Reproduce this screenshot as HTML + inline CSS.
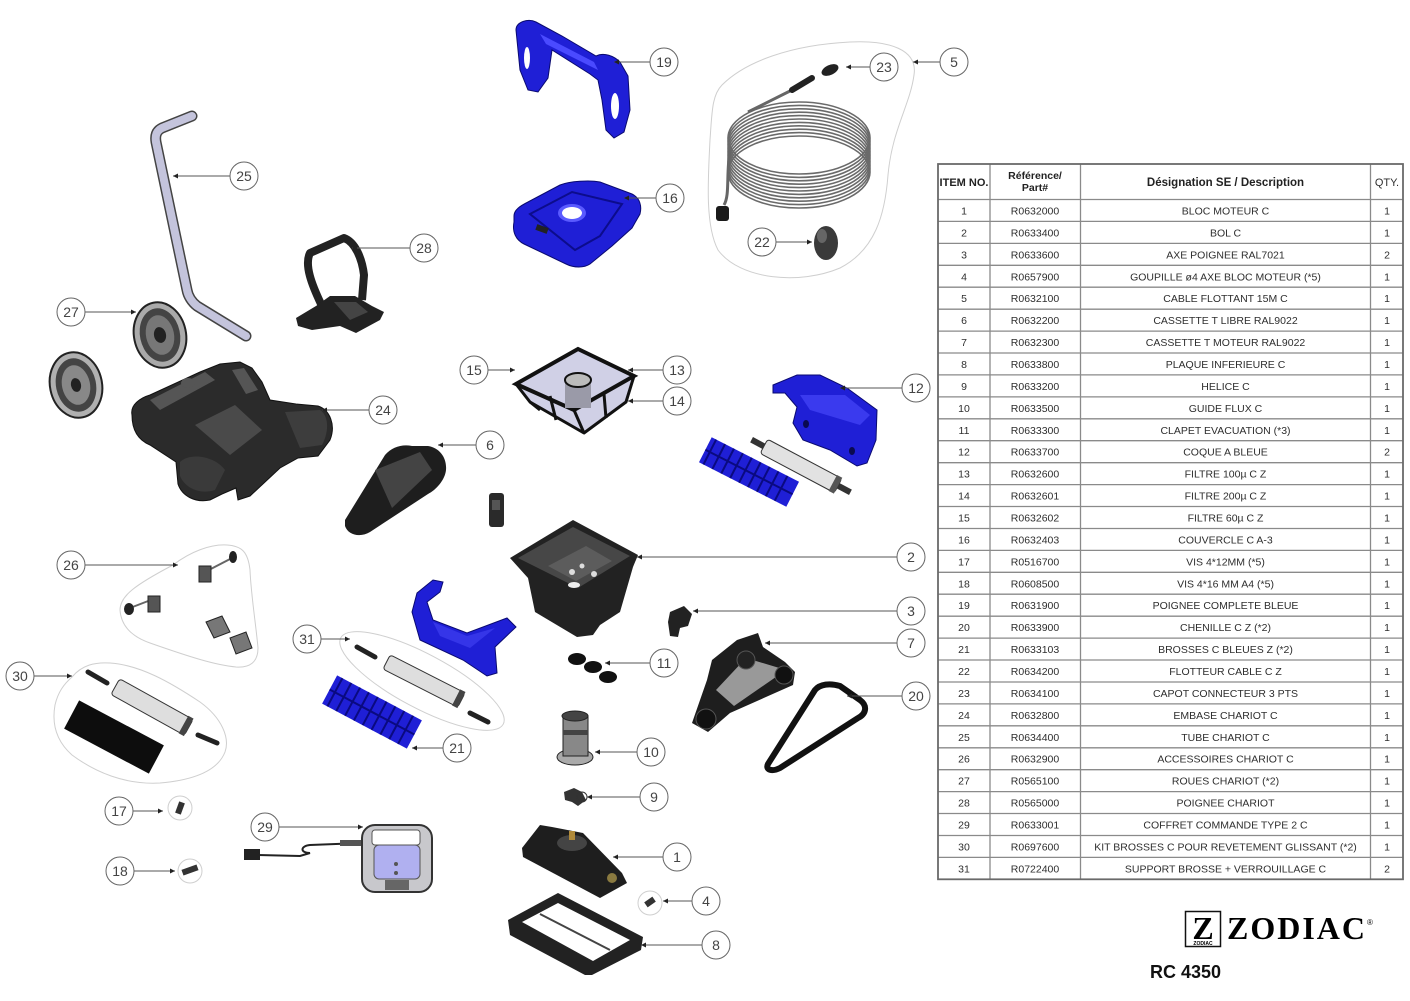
<!DOCTYPE html>
<html><head><meta charset="utf-8"><style>
html,body{margin:0;padding:0;background:#fff;}
svg{display:block;}
.bt{font-family:"Liberation Sans",sans-serif;font-size:14px;fill:#444;text-anchor:middle;}
.tt{font-family:"Liberation Sans",sans-serif;font-size:10.5px;fill:#2e2e2e;text-anchor:middle;}
.th{font-family:"Liberation Sans",sans-serif;font-size:11px;font-weight:bold;fill:#222;text-anchor:middle;}
</style></head><body>
<svg width="1410" height="1001" viewBox="0 0 1410 1001" xmlns="http://www.w3.org/2000/svg">
<defs>
<marker id="ar" viewBox="0 0 6 6" refX="6" refY="3" markerWidth="6" markerHeight="5" orient="auto"><path d="M0,0 L6,3 L0,6 Z" fill="#222"/></marker>
</defs>
<rect width="1410" height="1001" fill="#fff"/>

<!-- group outlines -->
<g fill="none" stroke="#cfcfcf" stroke-width="1">
<path d="M722,85 C745,62 790,45 850,42 C890,40 918,50 914,75 C910,105 892,130 888,175 C885,215 875,250 840,268 C800,285 740,280 718,250 C705,225 708,180 710,140 C712,112 712,95 722,85 Z"/>
<path d="M173,565 C190,552 210,544 227,545 C242,546 248,552 250,570 C251,595 256,625 258,648 C258,662 250,668 236,667 C215,665 190,657 150,643 C130,636 121,625 120,610 C120,596 135,585 173,565 Z"/>
<path d="M72,677 C82,665 95,662 110,663 C140,665 170,682 200,702 C222,718 230,738 225,752 C218,770 195,780 160,783 C125,785 95,772 72,755 C55,740 52,722 55,705 C58,692 64,684 72,677 Z"/>
<ellipse cx="422" cy="681" rx="92" ry="27" transform="rotate(28 422 681)"/>
<circle cx="180" cy="808" r="12"/>
<circle cx="190" cy="871" r="12"/>
<circle cx="650" cy="903" r="12"/>
</g>

<!-- 19 blue handle -->
<path d="M516,30 C516,22 528,18 536,22 L562,36 L596,56 C604,52 614,56 620,62 L628,76 L630,110 L624,132 L614,138 L606,130 L602,100 L598,80 L590,74 L552,50 L548,78 L538,92 L528,90 L520,70 Z" fill="#1f1fd6" stroke="#0a0a70"/>
<path d="M540,34 L594,62 L598,70 L546,44 Z" fill="#4a4aff"/>
<ellipse cx="527" cy="58" rx="3" ry="11" fill="#fff"/>
<ellipse cx="615" cy="106" rx="4" ry="13" fill="#fff"/>

<!-- 16 blue lid -->
<path d="M514,216 C514,210 520,206 528,202 L560,185 C570,181 590,180 600,182 L632,194 C640,198 642,206 640,214 L632,228 L612,246 L590,264 C584,268 574,268 566,264 L524,244 C516,240 512,232 514,222 Z" fill="#1f1fd6" stroke="#0a0a70"/>
<path d="M530,214 L572,192 L622,204 L600,236 L575,250 Z" fill="none" stroke="#0c0c8c" stroke-width="2"/>
<ellipse cx="572" cy="213" rx="14" ry="9" fill="#5a5aff"/>
<ellipse cx="572" cy="213" rx="10" ry="6" fill="#fff"/>
<rect x="536" y="226" width="12" height="6" fill="#222" transform="rotate(20 542 229)"/>

<!-- 5 cable coil -->
<g fill="none" stroke="#6a6a6a" stroke-width="1.6">
<ellipse cx="799" cy="138" rx="71" ry="36"/><ellipse cx="799" cy="141.4" rx="71" ry="36"/><ellipse cx="799" cy="144.8" rx="71" ry="36"/><ellipse cx="799" cy="148.2" rx="71" ry="36"/><ellipse cx="799" cy="151.6" rx="71" ry="36"/><ellipse cx="799" cy="155" rx="71" ry="36"/><ellipse cx="799" cy="158.4" rx="71" ry="36"/><ellipse cx="799" cy="161.8" rx="71" ry="36"/><ellipse cx="799" cy="165.2" rx="71" ry="36"/><ellipse cx="799" cy="168.6" rx="71" ry="36"/><ellipse cx="799" cy="172" rx="71" ry="36"/>
</g>
<path d="M748,112 L792,90" stroke="#666" stroke-width="3" fill="none"/>
<path d="M792,90 L812,78" stroke="#222" stroke-width="6" stroke-linecap="round"/>
<ellipse cx="830" cy="70" rx="9" ry="5" fill="#222" transform="rotate(-25 830 70)"/>
<path d="M730,150 C726,175 730,195 724,205" stroke="#666" stroke-width="3" fill="none"/>
<rect x="716" y="206" width="13" height="15" rx="3" fill="#1a1a1a"/>
<ellipse cx="826" cy="243" rx="12" ry="17" fill="#3a3a3a"/>
<ellipse cx="822" cy="236" rx="5" ry="7" fill="#666"/>

<!-- 25 pipe -->
<path d="M192,116 L162,128 C156,131 155,136 156,142 L187,290 C188,296 192,302 197,306 L246,336" stroke="#444" stroke-width="11" fill="none" stroke-linecap="round" stroke-linejoin="round"/>
<path d="M192,116 L162,128 C156,131 155,136 156,142 L187,290 C188,296 192,302 197,306 L246,336" stroke="#c4c4dc" stroke-width="8" fill="none" stroke-linecap="round" stroke-linejoin="round"/>

<!-- 28 handle -->
<path d="M321,304 C312,285 304,265 310,253 L344,238 C355,242 362,258 364,275 L362,300" stroke="#222" stroke-width="8" fill="none" stroke-linejoin="round"/>
<path d="M296,318 L316,306 L330,296 L355,296 L372,306 L384,312 L380,320 L356,333 L340,326 L312,330 L298,326 Z" fill="#222"/>
<path d="M334,302 L356,302 L368,312 L350,320 Z" fill="#444"/>

<!-- 27 wheels -->
<g transform="rotate(-12 160 335)">
<ellipse cx="160" cy="335" rx="26" ry="33" fill="#aaa" stroke="#222" stroke-width="2"/>
<ellipse cx="160" cy="335" rx="20" ry="27" fill="#444"/>
<ellipse cx="160" cy="335" rx="14" ry="20" fill="#777"/>
<ellipse cx="160" cy="335" rx="6" ry="8" fill="#222"/>
</g>
<g transform="rotate(-12 76 385)">
<ellipse cx="76" cy="385" rx="26" ry="33" fill="#b0b0b0" stroke="#222" stroke-width="2"/>
<ellipse cx="76" cy="385" rx="20" ry="27" fill="#444"/>
<ellipse cx="76" cy="385" rx="14" ry="20" fill="#888"/>
<ellipse cx="76" cy="385" rx="5" ry="7" fill="#222"/>
</g>

<!-- 24 base -->
<path d="M132,415 C130,405 140,398 150,395 L200,372 L220,364 L240,362 L252,368 L262,382 L270,400 L296,404 L318,406 C330,410 336,425 330,440 L318,456 L298,458 L280,468 L250,496 L238,500 L236,488 L222,494 L210,500 C195,503 182,496 178,484 L176,462 L150,445 C138,440 132,430 132,415 Z" fill="#2b2b2b" stroke="#111"/>
<path d="M195,425 L235,405 L262,430 L230,455 Z" fill="#4a4a4a"/>
<path d="M180,462 C190,452 215,456 225,470 L215,490 C200,495 185,488 180,476 Z" fill="#3a3a3a"/>
<path d="M150,400 L205,372 L215,380 L160,410 Z" fill="#555"/>
<path d="M285,412 L320,410 C328,415 330,430 322,445 L300,448 Z" fill="#3d3d3d"/>
<path d="M232,370 L244,368 L258,390 L246,394 Z" fill="#555"/>
<ellipse cx="188" cy="383" rx="7" ry="5" fill="#555"/>

<!-- 6 cassette -->
<path d="M345,520 L385,455 C392,447 402,444 412,446 L428,446 C440,448 447,458 446,470 C445,480 436,490 428,494 L370,532 C360,538 348,535 345,526 Z" fill="#1e1e1e"/>
<path d="M375,470 L420,452 L432,470 L392,508 Z" fill="#444"/>
<!-- small part -->
<rect x="489" y="493" width="15" height="34" rx="3" fill="#2a2a2a"/>
<rect x="492" y="500" width="8" height="10" fill="#555"/>

<!-- filter 13/14/15 -->
<path d="M516,384 L578,349 L634,376 L626,402 L584,433 L530,402 Z" fill="#d0d0e6" stroke="#111" stroke-width="3" stroke-linejoin="round"/>
<path d="M516,384 L578,349 L634,376 L574,410 Z" fill="none" stroke="#111" stroke-width="4"/>
<rect x="565" y="380" width="26" height="28" fill="#9a9aa8"/>
<ellipse cx="578" cy="380" rx="13" ry="7" fill="#bbb" stroke="#111" stroke-width="2"/>
<path d="M574,410 L584,433 M550,396 L556,420 M604,394 L606,418 M530,402 L540,410" stroke="#111" stroke-width="3"/>

<!-- 12 blue shell right -->
<path d="M773,385 L797,375 L820,375 L847,388 L877,410 L876,440 L867,463 L857,466 L830,450 L803,440 L793,423 L797,407 L785,393 L773,393 Z" fill="#1f1fd6" stroke="#0a0a70"/>
<path d="M800,395 L845,395 L870,415 L860,425 L810,410 Z" fill="#3a3aee"/>
<ellipse cx="806" cy="424" rx="3" ry="4" fill="#0a0a50"/>
<ellipse cx="852" cy="451" rx="3" ry="4" fill="#0a0a50"/>
<!-- brush right -->
<g transform="translate(749 472) rotate(27)">
<rect x="-49" y="-14" width="98" height="28" fill="#1f1fd6"/>
<path d="M-44,-14 V14 M-34,-14 V14 M-24,-14 V14 M-14,-14 V14 M-4,-14 V14 M6,-14 V14 M16,-14 V14 M26,-14 V14 M36,-14 V14 M-49,0 H49" stroke="#0a0a80" stroke-width="2"/>
</g>
<!-- roller right -->
<g transform="translate(801 466) rotate(28)">
<rect x="-56" y="-3" width="112" height="6" fill="#333"/>
<rect x="-42" y="-8" width="84" height="16" rx="3" fill="#e2e2e2" stroke="#333"/>
<rect x="36" y="-9" width="6" height="18" fill="#555"/>
</g>

<!-- 2 bowl -->
<path d="M510,558 L573,520 L638,555 L633,567 L620,612 L600,625 L593,635 L577,637 L535,612 L528,578 Z" fill="#222"/>
<path d="M518,558 L573,527 L630,556 L578,588 Z" fill="#474747"/>
<path d="M548,566 L586,546 L612,561 L576,581 Z" fill="#5c5c5c"/>
<circle cx="572" cy="572" r="3" fill="#ddd"/><circle cx="582" cy="566" r="2.5" fill="#ddd"/><circle cx="594" cy="574" r="3" fill="#ddd"/>
<ellipse cx="574" cy="585" rx="6" ry="3" fill="#eee"/>

<!-- 12 blue shell left -->
<path d="M417,593 L433,580 L443,582 L440,592 L427,602 L433,620 L467,633 L507,618 L516,627 L495,647 L497,673 L487,676 L463,660 L420,640 L412,612 Z" fill="#1f1fd6" stroke="#0a0a70"/>
<path d="M433,622 L467,636 L495,628 L470,648 L440,636 Z" fill="#3535e8"/>

<!-- 3 -->
<path d="M670,612 L684,606 L692,614 L688,626 L680,628 L678,637 L670,636 L668,622 Z" fill="#222"/>

<!-- 11 discs -->
<ellipse cx="577" cy="659" rx="9" ry="6" fill="#111"/>
<ellipse cx="593" cy="667" rx="9" ry="6" fill="#111"/>
<ellipse cx="608" cy="677" rx="9" ry="6" fill="#111"/>

<!-- 7 cassette motor -->
<path d="M692,723 L707,680 L712,660 L737,640 L758,633 L763,647 L785,662 L795,672 L793,685 L730,713 L708,732 Z" fill="#1e1e1e"/>
<path d="M716,690 L746,658 L786,670 L734,706 Z" fill="#999"/>
<circle cx="706" cy="719" r="10" fill="#111" stroke="#555"/>
<circle cx="784" cy="675" r="9" fill="#111" stroke="#555"/>
<circle cx="746" cy="660" r="9" fill="#222" stroke="#555"/>

<!-- 20 track -->
<path d="M768,764 L815,690 C820,684 830,683 840,686 L860,700 C868,706 866,714 858,718 L780,768 C772,772 765,770 768,764 Z" fill="none" stroke="#111" stroke-width="6" stroke-linejoin="round"/>

<!-- 10 -->
<ellipse cx="575" cy="757" rx="18" ry="8" fill="#aaa" stroke="#222"/>
<rect x="563" y="716" width="25" height="40" fill="#888" stroke="#222"/>
<rect x="563" y="730" width="25" height="5" fill="#444"/>
<ellipse cx="575" cy="716" rx="13" ry="5" fill="#444" stroke="#222"/>

<!-- 9 -->
<path d="M564,792 L574,788 L582,792 L586,800 L578,806 L572,802 L565,800 Z" fill="#333"/>
<circle cx="582" cy="797" r="5" fill="none" stroke="#333"/>

<!-- 1 motor -->
<path d="M522,848 L540,825 L552,827 L583,833 L622,873 L627,883 L600,898 L523,857 Z" fill="#1e1e1e"/>
<ellipse cx="572" cy="843" rx="15" ry="8" fill="#444"/>
<rect x="569" y="831" width="6" height="9" fill="#b08a3a"/>
<circle cx="612" cy="878" r="5" fill="#8a7a40"/>

<!-- 4 -->
<rect x="645" y="899" width="10" height="6" fill="#333" transform="rotate(-35 650 902)"/>

<!-- 8 plate -->
<path d="M508,920 L558,893 L643,937 L641,950 L592,975 L585,975 L510,935 Z" fill="#222"/>
<path d="M522,922 L558,903 L630,940 L593,961 Z" fill="#fff"/>
<path d="M540,914 L610,950" stroke="#444" stroke-width="2"/>

<!-- 26 parts -->
<path d="M205,572 L232,558" stroke="#666" stroke-width="2"/>
<ellipse cx="233" cy="557" rx="4" ry="6" fill="#222"/>
<rect x="199" y="566" width="12" height="16" fill="#555" stroke="#222"/>
<path d="M130,608 L156,598" stroke="#666" stroke-width="2"/>
<ellipse cx="129" cy="609" rx="5" ry="6" fill="#222"/>
<rect x="148" y="596" width="12" height="16" fill="#555" stroke="#222"/>
<path d="M206,622 L222,616 L230,632 L214,638 Z" fill="#777" stroke="#222"/>
<path d="M230,638 L246,632 L252,648 L236,654 Z" fill="#777" stroke="#222"/>

<!-- 30 parts -->
<g transform="translate(114 737) rotate(28)"><rect x="-48" y="-16" width="96" height="32" fill="#0d0d0d"/></g>
<g transform="translate(152 707) rotate(29)"><rect x="-42" y="-9" width="84" height="18" rx="3" fill="#dedede" stroke="#333"/><rect x="36" y="-10" width="6" height="20" fill="#444"/></g>
<path d="M88,672 L107,683 M198,735 L217,743" stroke="#222" stroke-width="5" stroke-linecap="round"/>

<!-- 31 parts -->
<g transform="translate(424 681) rotate(27)"><rect x="-42" y="-8" width="84" height="16" rx="3" fill="#dedede" stroke="#333"/><rect x="36" y="-9" width="6" height="18" fill="#444"/></g>
<path d="M357,647 L375,657 M470,713 L488,722" stroke="#222" stroke-width="5" stroke-linecap="round"/>
<!-- 21 blue brush -->
<g transform="translate(372 712) rotate(28)">
<rect x="-48" y="-16" width="96" height="32" fill="#1f1fd6"/>
<path d="M-42,-16 V16 M-32,-16 V16 M-22,-16 V16 M-12,-16 V16 M-2,-16 V16 M8,-16 V16 M18,-16 V16 M28,-16 V16 M38,-16 V16 M-48,0 H48" stroke="#0a0a80" stroke-width="2"/>
</g>

<!-- 17 / 18 -->
<rect x="177" y="802" width="6" height="12" fill="#333" transform="rotate(20 180 808)"/>
<rect x="182" y="867" width="16" height="6" fill="#333" transform="rotate(-20 190 870)"/>

<!-- 29 control box -->
<path d="M362,843 L310,845 C300,846 300,853 310,853 L300,856 L258,855" stroke="#222" stroke-width="2" fill="none"/>
<rect x="244" y="849" width="16" height="11" fill="#222"/>
<rect x="340" y="840" width="22" height="6" fill="#555"/>
<rect x="362" y="825" width="70" height="67" rx="13" fill="#c8c8cc" stroke="#333" stroke-width="2"/>
<rect x="372" y="830" width="48" height="15" rx="3" fill="#fff" stroke="#555"/>
<rect x="374" y="845" width="46" height="34" rx="5" fill="#b0b0f0" stroke="#555"/>
<rect x="385" y="880" width="24" height="10" fill="#666"/>
<circle cx="396" cy="864" r="2" fill="#555"/><circle cx="396" cy="873" r="2" fill="#555"/>

<!-- leaders -->
<g stroke="#555" stroke-width="1" fill="none" marker-end="url(#ar)">
<path d="M650,62 H614"/>
<path d="M870,67 H846"/>
<path d="M940,62 H913"/>
<path d="M656,198 H624"/>
<path d="M776,242 H812"/>
<path d="M230,176 H173"/>
<path d="M410,248 H352"/>
<path d="M85,312 H136"/>
<path d="M369,410 H322"/>
<path d="M488,370 H515"/>
<path d="M663,370 H628"/>
<path d="M663,401 H628"/>
<path d="M902,388 H840"/>
<path d="M476,445 H438"/>
<path d="M897,557 H637"/>
<path d="M85,565 H178"/>
<path d="M897,611 H693"/>
<path d="M321,639 H350"/>
<path d="M897,643 H765"/>
<path d="M650,663 H605"/>
<path d="M34,676 H72"/>
<path d="M902,696 H847"/>
<path d="M443,748 H412"/>
<path d="M637,752 H595"/>
<path d="M640,797 H587"/>
<path d="M133,811 H163"/>
<path d="M279,827 H363"/>
<path d="M663,857 H613"/>
<path d="M134,871 H175"/>
<path d="M692,901 H663"/>
<path d="M702,945 H641"/>
</g>

<!-- balloons -->
<g fill="#fff" stroke="#666" stroke-width="1">
<circle cx="664" cy="62" r="14"/><circle cx="884" cy="67" r="14"/><circle cx="954" cy="62" r="14"/><circle cx="670" cy="198" r="14"/><circle cx="762" cy="242" r="14"/><circle cx="244" cy="176" r="14"/><circle cx="424" cy="248" r="14"/><circle cx="71" cy="312" r="14"/><circle cx="383" cy="410" r="14"/><circle cx="474" cy="370" r="14"/><circle cx="677" cy="370" r="14"/><circle cx="677" cy="401" r="14"/><circle cx="916" cy="388" r="14"/><circle cx="490" cy="445" r="14"/><circle cx="911" cy="557" r="14"/><circle cx="71" cy="565" r="14"/><circle cx="911" cy="611" r="14"/><circle cx="307" cy="639" r="14"/><circle cx="911" cy="643" r="14"/><circle cx="664" cy="663" r="14"/><circle cx="20" cy="676" r="14"/><circle cx="916" cy="696" r="14"/><circle cx="457" cy="748" r="14"/><circle cx="651" cy="752" r="14"/><circle cx="654" cy="797" r="14"/><circle cx="119" cy="811" r="14"/><circle cx="265" cy="827" r="14"/><circle cx="677" cy="857" r="14"/><circle cx="120" cy="871" r="14"/><circle cx="706" cy="901" r="14"/><circle cx="716" cy="945" r="14"/>
</g>
<g class="bt">
<text x="664" y="67" class="bt">19</text><text x="884" y="72" class="bt">23</text><text x="954" y="67" class="bt">5</text><text x="670" y="203" class="bt">16</text><text x="762" y="247" class="bt">22</text><text x="244" y="181" class="bt">25</text><text x="424" y="253" class="bt">28</text><text x="71" y="317" class="bt">27</text><text x="383" y="415" class="bt">24</text><text x="474" y="375" class="bt">15</text><text x="677" y="375" class="bt">13</text><text x="677" y="406" class="bt">14</text><text x="916" y="393" class="bt">12</text><text x="490" y="450" class="bt">6</text><text x="911" y="562" class="bt">2</text><text x="71" y="570" class="bt">26</text><text x="911" y="616" class="bt">3</text><text x="307" y="644" class="bt">31</text><text x="911" y="648" class="bt">7</text><text x="664" y="668" class="bt">11</text><text x="20" y="681" class="bt">30</text><text x="916" y="701" class="bt">20</text><text x="457" y="753" class="bt">21</text><text x="651" y="757" class="bt">10</text><text x="654" y="802" class="bt">9</text><text x="119" y="816" class="bt">17</text><text x="265" y="832" class="bt">29</text><text x="677" y="862" class="bt">1</text><text x="120" y="876" class="bt">18</text><text x="706" y="906" class="bt">4</text><text x="716" y="950" class="bt">8</text>
</g>

<!-- TABLE -->
<g fill="none" stroke="#8a8a8a" stroke-width="1.3">
<path d="M990,164 V879.3 M1080.5,164 V879.3 M1370.5,164 V879.3"/>
<path d="M938,199.5 H1403 M938,221.4 H1403 M938,243.4 H1403 M938,265.3 H1403 M938,287.2 H1403 M938,309.2 H1403 M938,331.1 H1403 M938,353 H1403 M938,374.9 H1403 M938,396.9 H1403 M938,418.8 H1403 M938,440.7 H1403 M938,462.7 H1403 M938,484.6 H1403 M938,506.5 H1403 M938,528.5 H1403 M938,550.4 H1403 M938,572.3 H1403 M938,594.2 H1403 M938,616.2 H1403 M938,638.1 H1403 M938,660 H1403 M938,682 H1403 M938,703.9 H1403 M938,725.8 H1403 M938,747.8 H1403 M938,769.7 H1403 M938,791.6 H1403 M938,813.5 H1403 M938,835.5 H1403 M938,857.4 H1403"/>
</g>
<rect x="938" y="164" width="465" height="715.3" fill="none" stroke="#6a6a6a" stroke-width="1.8"/>

<text x="964" y="186" class="th" style="font-size:11px">ITEM NO.</text>
<text x="1035" y="179" class="th" style="font-size:10.5px">Référence/</text>
<text x="1035" y="191" class="th" style="font-size:10.5px">Part#</text>
<text x="1225.5" y="186" class="th" style="font-size:11.5px">Désignation SE / Description</text>
<text x="1387" y="186" class="tt" style="font-size:11px">QTY.</text>

<g class="tt">
<text x="964" y="214.5">1</text><text x="1035" y="214.5">R0632000</text><text x="1225.5" y="214.5">BLOC MOTEUR C</text><text x="1387" y="214.5">1</text>
<text x="964" y="236.4">2</text><text x="1035" y="236.4">R0633400</text><text x="1225.5" y="236.4">BOL C</text><text x="1387" y="236.4">1</text>
<text x="964" y="258.4">3</text><text x="1035" y="258.4">R0633600</text><text x="1225.5" y="258.4">AXE POIGNEE RAL7021</text><text x="1387" y="258.4">2</text>
<text x="964" y="280.3">4</text><text x="1035" y="280.3">R0657900</text><text x="1225.5" y="280.3">GOUPILLE ø4 AXE BLOC MOTEUR (*5)</text><text x="1387" y="280.3">1</text>
<text x="964" y="302.2">5</text><text x="1035" y="302.2">R0632100</text><text x="1225.5" y="302.2">CABLE FLOTTANT 15M C</text><text x="1387" y="302.2">1</text>
<text x="964" y="324.2">6</text><text x="1035" y="324.2">R0632200</text><text x="1225.5" y="324.2">CASSETTE T LIBRE RAL9022</text><text x="1387" y="324.2">1</text>
<text x="964" y="346.1">7</text><text x="1035" y="346.1">R0632300</text><text x="1225.5" y="346.1">CASSETTE T MOTEUR RAL9022</text><text x="1387" y="346.1">1</text>
<text x="964" y="368">8</text><text x="1035" y="368">R0633800</text><text x="1225.5" y="368">PLAQUE INFERIEURE C</text><text x="1387" y="368">1</text>
<text x="964" y="389.9">9</text><text x="1035" y="389.9">R0633200</text><text x="1225.5" y="389.9">HELICE C</text><text x="1387" y="389.9">1</text>
<text x="964" y="411.9">10</text><text x="1035" y="411.9">R0633500</text><text x="1225.5" y="411.9">GUIDE FLUX C</text><text x="1387" y="411.9">1</text>
<text x="964" y="433.8">11</text><text x="1035" y="433.8">R0633300</text><text x="1225.5" y="433.8">CLAPET EVACUATION  (*3)</text><text x="1387" y="433.8">1</text>
<text x="964" y="455.7">12</text><text x="1035" y="455.7">R0633700</text><text x="1225.5" y="455.7">COQUE A BLEUE</text><text x="1387" y="455.7">2</text>
<text x="964" y="477.7">13</text><text x="1035" y="477.7">R0632600</text><text x="1225.5" y="477.7">FILTRE 100µ C Z</text><text x="1387" y="477.7">1</text>
<text x="964" y="499.6">14</text><text x="1035" y="499.6">R0632601</text><text x="1225.5" y="499.6">FILTRE 200µ C Z</text><text x="1387" y="499.6">1</text>
<text x="964" y="521.5">15</text><text x="1035" y="521.5">R0632602</text><text x="1225.5" y="521.5">FILTRE 60µ C Z</text><text x="1387" y="521.5">1</text>
<text x="964" y="543.4">16</text><text x="1035" y="543.4">R0632403</text><text x="1225.5" y="543.4">COUVERCLE C A-3</text><text x="1387" y="543.4">1</text>
<text x="964" y="565.4">17</text><text x="1035" y="565.4">R0516700</text><text x="1225.5" y="565.4">VIS 4*12MM (*5)</text><text x="1387" y="565.4">1</text>
<text x="964" y="587.3">18</text><text x="1035" y="587.3">R0608500</text><text x="1225.5" y="587.3">VIS 4*16 MM A4 (*5)</text><text x="1387" y="587.3">1</text>
<text x="964" y="609.2">19</text><text x="1035" y="609.2">R0631900</text><text x="1225.5" y="609.2">POIGNEE COMPLETE BLEUE</text><text x="1387" y="609.2">1</text>
<text x="964" y="631.2">20</text><text x="1035" y="631.2">R0633900</text><text x="1225.5" y="631.2">CHENILLE C Z (*2)</text><text x="1387" y="631.2">1</text>
<text x="964" y="653.1">21</text><text x="1035" y="653.1">R0633103</text><text x="1225.5" y="653.1">BROSSES C BLEUES Z (*2)</text><text x="1387" y="653.1">1</text>
<text x="964" y="675">22</text><text x="1035" y="675">R0634200</text><text x="1225.5" y="675">FLOTTEUR CABLE C Z</text><text x="1387" y="675">1</text>
<text x="964" y="697">23</text><text x="1035" y="697">R0634100</text><text x="1225.5" y="697">CAPOT CONNECTEUR 3 PTS</text><text x="1387" y="697">1</text>
<text x="964" y="718.9">24</text><text x="1035" y="718.9">R0632800</text><text x="1225.5" y="718.9">EMBASE CHARIOT C</text><text x="1387" y="718.9">1</text>
<text x="964" y="740.8">25</text><text x="1035" y="740.8">R0634400</text><text x="1225.5" y="740.8">TUBE CHARIOT C</text><text x="1387" y="740.8">1</text>
<text x="964" y="762.7">26</text><text x="1035" y="762.7">R0632900</text><text x="1225.5" y="762.7">ACCESSOIRES CHARIOT C</text><text x="1387" y="762.7">1</text>
<text x="964" y="784.7">27</text><text x="1035" y="784.7">R0565100</text><text x="1225.5" y="784.7">ROUES CHARIOT (*2)</text><text x="1387" y="784.7">1</text>
<text x="964" y="806.6">28</text><text x="1035" y="806.6">R0565000</text><text x="1225.5" y="806.6">POIGNEE CHARIOT</text><text x="1387" y="806.6">1</text>
<text x="964" y="828.5">29</text><text x="1035" y="828.5">R0633001</text><text x="1225.5" y="828.5">COFFRET COMMANDE TYPE 2 C</text><text x="1387" y="828.5">1</text>
<text x="964" y="850.5">30</text><text x="1035" y="850.5">R0697600</text><text x="1225.5" y="850.5">KIT BROSSES C POUR REVETEMENT GLISSANT (*2)</text><text x="1387" y="850.5">1</text>
<text x="964" y="872.4">31</text><text x="1035" y="872.4">R0722400</text><text x="1225.5" y="872.4">SUPPORT BROSSE + VERROUILLAGE C</text><text x="1387" y="872.4">2</text>
</g>

<!-- LOGO -->
<rect x="1185.5" y="911.5" width="35" height="35" fill="#fff" stroke="#111" stroke-width="1.5"/>
<text x="1203" y="939" style="font-family:'Liberation Serif',serif;font-weight:bold;font-size:32px;fill:#000;text-anchor:middle">Z</text>
<text x="1203" y="945" style="font-family:'Liberation Sans',sans-serif;font-weight:bold;font-size:5px;fill:#000;text-anchor:middle">ZODIAC</text>
<text x="1227" y="939" style="font-family:'Liberation Serif',serif;font-weight:bold;font-size:32px;fill:#000;letter-spacing:2px">ZODIAC</text>
<text x="1367" y="925" style="font-family:'Liberation Sans',sans-serif;font-size:8px;fill:#000">®</text>
<text x="1150" y="978" style="font-family:'Liberation Sans',sans-serif;font-weight:bold;font-size:18px;fill:#111">RC 4350</text>
</svg>
</body></html>
